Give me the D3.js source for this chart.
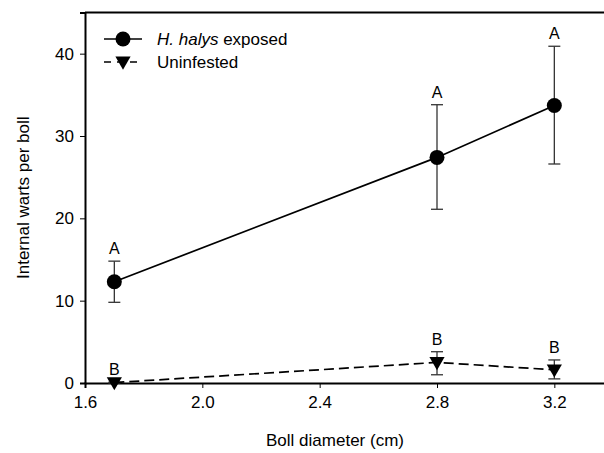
<!DOCTYPE html>
<html>
<head>
<meta charset="utf-8">
<script src="https://cdn.jsdelivr.net/npm/d3@7"></script>
<style>
  body { margin: 0; background: #fff; }
  text { font-family: "Liberation Sans", Arial, sans-serif; }
</style>
</head>
<body>
<script>
const width = 604;
const height = 453;
const marginTop = 12.5;
const marginLeft = 85;
const marginBottom = 70;

// data
const diameters = [1.7, 2.8, 3.2];
const exposedMean = [12.3, 27.4, 33.7];
const exposedLow = [9.8, 21.1, 26.6];
const exposedHigh = [14.8, 33.8, 40.9];
const exposedLetters = ["A", "A", "A"];
const uninfMean = [0.05, 2.5, 1.6];
const uninfLow = [0.0, 1.0, 0.5];
const uninfHigh = [0.1, 3.8, 2.8];
const uninfLetters = ["B", "B", "B"];
const xTicks = [1.6, 2.0, 2.4, 2.8, 3.2];
const yTicks = [0, 10, 20, 30, 40];

const svg = d3.select("body").append("svg")
  .attr("width", width)
  .attr("height", height);

const x = d3.scaleLinear()
  .domain([1.6, 3.4])
  .range([marginLeft, 613]);

const y = d3.scaleLinear()
  .domain([0, 45])
  .range([height - marginBottom, marginTop]);

const exposed = diameters.map((d, i) => ({x: d, m: exposedMean[i], lo: exposedLow[i], hi: exposedHigh[i], t: exposedLetters[i]}));
const uninf = diameters.map((d, i) => ({x: d, m: uninfMean[i], lo: uninfLow[i], hi: uninfHigh[i], t: uninfLetters[i]}));

// frame top line
svg.append("line")
  .attr("x1", x(1.6)).attr("x2", width)
  .attr("y1", y(45)).attr("y2", y(45))
  .attr("stroke", "#000").attr("stroke-width", 2);

const xAxis = svg.append("g")
  .attr("transform", `translate(0,${y(0)})`)
  .call(d3.axisBottom(x).tickValues(xTicks).tickFormat(d3.format(".1f")).tickSizeOuter(0).tickSize(5).tickPadding(8));
xAxis.select(".domain").attr("stroke-width", 2);

const yAxis = svg.append("g")
  .attr("transform", `translate(${marginLeft},0)`)
  .call(d3.axisLeft(y).tickValues(yTicks).tickSizeOuter(0).tickSize(5).tickPadding(6));
yAxis.select(".domain").attr("stroke-width", 2);

svg.selectAll(".tick text")
  .style("font-size", "17px")
  .style("font-family", "Liberation Sans, Arial, sans-serif")
  .attr("fill", "#000");

// error bars
function errorBars(data) {
  const g = svg.append("g").attr("stroke", "#333").attr("stroke-width", 1.3);
  data.forEach(d => {
    g.append("line").attr("x1", x(d.x)).attr("x2", x(d.x)).attr("y1", y(d.lo)).attr("y2", y(d.hi));
    g.append("line").attr("x1", x(d.x) - 6).attr("x2", x(d.x) + 6).attr("y1", y(d.hi)).attr("y2", y(d.hi));
    g.append("line").attr("x1", x(d.x) - 6).attr("x2", x(d.x) + 6).attr("y1", y(d.lo)).attr("y2", y(d.lo));
  });
  svg.append("g").selectAll("text")
    .data(data)
    .join("text")
      .attr("x", d => x(d.x))
      .attr("y", d => y(d.hi) - 7)
      .attr("text-anchor", "middle")
      .style("font-size", "16px")
      .text(d => d.t);
}
errorBars(exposed);
errorBars(uninf);

const line = d3.line().x(d => x(d.x)).y(d => y(d.m));

svg.append("path")
  .datum(exposed)
  .attr("d", line)
  .attr("fill", "none")
  .attr("stroke", "#000")
  .attr("stroke-width", 1.7);

svg.append("path")
  .datum(uninf)
  .attr("d", line)
  .attr("fill", "none")
  .attr("stroke", "#000")
  .attr("stroke-width", 1.7)
  .attr("stroke-dasharray", "10,5");

const tri = d3.symbol().type(d3.symbolTriangle).size(100);

svg.selectAll(".dot")
  .data(exposed)
  .join("circle")
    .attr("cx", d => x(d.x))
    .attr("cy", d => y(d.m))
    .attr("r", 7.5)
    .attr("fill", "#000");

svg.selectAll(".tri")
  .data(uninf)
  .join("path")
    .attr("d", tri)
    .attr("transform", d => `translate(${x(d.x)},${y(d.m) - 1}) rotate(180)`)
    .attr("fill", "#000");

// legend
const leg = svg.append("g");
leg.append("line").attr("x1", 104).attr("x2", 142).attr("y1", 39).attr("y2", 39)
  .attr("stroke", "#000").attr("stroke-width", 1.7);
leg.append("circle").attr("cx", 123).attr("cy", 39).attr("r", 7.5).attr("fill", "#000");
const t1 = leg.append("text").attr("x", 157).attr("y", 45).style("font-size", "17px");
t1.append("tspan").attr("font-style", "italic").text("H. halys");
t1.append("tspan").text(" exposed");

leg.append("line").attr("x1", 104).attr("x2", 142).attr("y1", 62).attr("y2", 62)
  .attr("stroke", "#000").attr("stroke-width", 1.7).attr("stroke-dasharray", "7,6");
leg.append("path").attr("d", tri).attr("transform", "translate(123,61) rotate(180)").attr("fill", "#000");
leg.append("text").attr("x", 157).attr("y", 68).style("font-size", "17px").text("Uninfested");

// axis titles
svg.append("text")
  .attr("x", 335)
  .attr("y", 446)
  .attr("text-anchor", "middle")
  .style("font-size", "17px")
  .text("Boll diameter (cm)");

svg.append("text")
  .attr("transform", `translate(29,${(y(0) + y(45)) / 2}) rotate(-90)`)
  .attr("text-anchor", "middle")
  .style("font-size", "17px")
  .text("Internal warts per boll");
</script>
</body>
</html>
